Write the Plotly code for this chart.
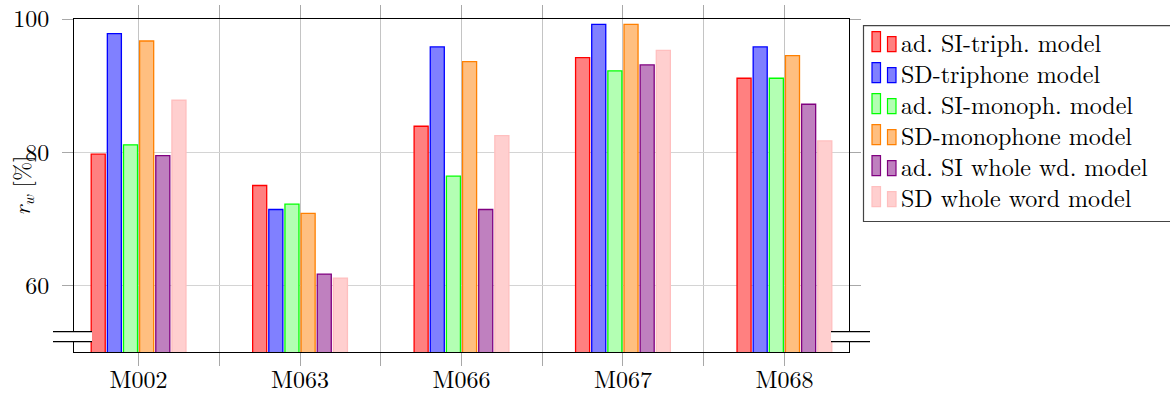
import plotly.graph_objects as go

# Speakers (x categories) and recognition rates r_w in percent per model
speakers = ["M002", "M063", "M066", "M067", "M068"]

si_triph = [79.7, 75.0, 83.9, 94.2, 91.1]
sd_triph = [97.8, 71.4, 95.8, 99.2, 95.8]
si_monoph = [81.1, 72.2, 76.4, 92.2, 91.1]
sd_monoph = [96.7, 70.8, 93.6, 99.2, 94.5]
si_whole = [79.5, 61.7, 71.4, 93.1, 87.2]
sd_whole = [87.8, 61.1, 82.5, 95.3, 81.7]

series_names = [
    "ad. SI-triph. model",
    "SD-triphone model",
    "ad. SI-monoph. model",
    "SD-monophone model",
    "ad. SI whole wd. model",
    "SD whole word model",
]
series_values = [si_triph, sd_triph, si_monoph, sd_monoph, si_whole, sd_whole]

fills = ["#ff8080", "#8080ff", "#b3ffb3", "#ffbf80", "#bf80bf", "#ffcfcf"]
edges = ["#ff0000", "#0000ff", "#00ff00", "#ff8000", "#800080", "#ffbfbf"]

y_ticks = [60, 80, 100]

FONT = "Latin Modern Roman"
W, H = 1170, 394
L, R, T, B = 74, 321, 19, 42
PW, PH = W - L - R, H - T - B

x_pos = list(range(len(speakers)))

fig = go.Figure()
for name, vals, fc, ec in zip(series_names, series_values, fills, edges):
    fig.add_trace(go.Bar(
        x=x_pos, y=vals, name=name,
        marker=dict(color=fc, line=dict(color=ec, width=1.3)),
        showlegend=False,
    ))

grid_col = "#c4c4c4"
tick_col = "#a8a8a8"

fig.update_layout(
    width=W, height=H,
    margin=dict(l=L, r=R, t=T, b=B, autoexpand=False),
    paper_bgcolor="white", plot_bgcolor="white",
    barmode="group", bargap=0.40, bargroupgap=0.13,
    font=dict(family=FONT, size=24, color="black"),
    xaxis=dict(
        range=[-0.4, len(speakers) - 0.6],
        tickmode="array", tickvals=x_pos, ticktext=speakers,
        showgrid=True, gridcolor=grid_col, gridwidth=1,
        ticks="outside", ticklen=13, tickcolor=tick_col, tickwidth=1,
        showline=True, linecolor="black", linewidth=1, mirror="ticks",
        minor=dict(tickvals=[i + 0.5 for i in x_pos[:-1]], ticks="outside",
                   ticklen=13, tickcolor=tick_col, showgrid=True,
                   gridcolor=grid_col, gridwidth=1),
        zeroline=False, ticklabelstandoff=-7, automargin=False,
        tickfont=dict(family=FONT, size=24, color="black"),
    ),
    yaxis=dict(
        range=[50, 100],
        tickmode="array", tickvals=y_ticks,
        showgrid=True, gridcolor="#d4d4d4", gridwidth=1,
        ticks="outside", ticklen=11, tickcolor=tick_col, tickwidth=1,
        showline=True, linecolor="black", linewidth=1, mirror="ticks",
        zeroline=False, ticklabelstandoff=8, automargin=False,
        tickfont=dict(family=FONT, size=24, color="black"),
    ),
)


def px_x(p):
    return (p - L) / PW


def px_y(p):
    return (H - B - p) / PH


shapes = []
# y-axis discontinuity markers on both sides
for x0, x1 in [(53, 92), (831, 870)]:
    shapes.append(dict(type="rect", xref="paper", yref="paper",
                       x0=px_x(x0), x1=px_x(x1), y0=px_y(341.7), y1=px_y(331.7),
                       fillcolor="white", line=dict(width=0), layer="above"))
    for yy in (331.7, 341.7):
        shapes.append(dict(type="line", xref="paper", yref="paper",
                           x0=px_x(x0), x1=px_x(x1), y0=px_y(yy), y1=px_y(yy),
                           line=dict(color="black", width=1.2), layer="above"))

annotations = [
    # y-axis title
    dict(xref="paper", yref="paper", x=px_x(21), y=0.5, textangle=-90,
         xanchor="center", yanchor="middle", showarrow=False,
         text="<i>r</i><sub><i>w</i></sub> [%]",
         font=dict(family=FONT, size=23, color="black")),
]

# legend box with bar-style swatches
shapes.append(dict(type="rect", xref="paper", yref="paper",
                   x0=px_x(863.5), x1=px_x(1180), y0=px_y(221.5), y1=px_y(25.7),
                   fillcolor="white", line=dict(color="#444444", width=1.2),
                   layer="above"))
for i, (name, fc, ec) in enumerate(zip(series_names, fills, edges)):
    base = 51.7 + i * 31.0
    shapes.append(dict(type="rect", xref="paper", yref="paper",
                       x0=px_x(872), x1=px_x(880.5), y0=px_y(base), y1=px_y(base - 20),
                       fillcolor=fc, line=dict(color=ec, width=1.2), layer="above"))
    shapes.append(dict(type="rect", xref="paper", yref="paper",
                       x0=px_x(887.5), x1=px_x(896), y0=px_y(base), y1=px_y(base - 15),
                       fillcolor=fc, line=dict(color=ec, width=1.2), layer="above"))
    annotations.append(dict(xref="paper", yref="paper", x=px_x(899), y=px_y(base - 10),
                            xanchor="left", yanchor="middle", showarrow=False,
                            text=name, font=dict(family=FONT, size=24, color="black")))

fig.update_layout(shapes=shapes, annotations=annotations)

fig.write_html("out.html")
